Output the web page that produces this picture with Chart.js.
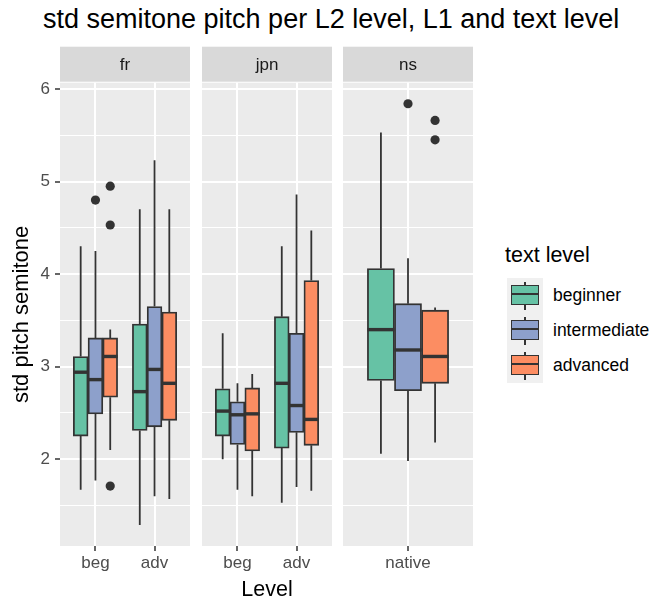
<!DOCTYPE html>
<html>
<head>
<meta charset="utf-8">
<script src="https://cdn.jsdelivr.net/npm/chart.js@4/dist/chart.umd.min.js"></script>
<style>
  body { margin: 0; background: #fff; font-family: "Liberation Sans", Arial, sans-serif; }
  #wrap { position: relative; width: 654px; height: 601px; overflow: hidden; background: #fff; }
  canvas { position: absolute; top: 40px; }
  #title { position: absolute; left: 43px; top: 6px; font-size: 27px; line-height: 26px; color: #000; white-space: nowrap; }
  #lgTitle { position: absolute; left: 505px; top: 245px; font-size: 21.5px; line-height: 21.5px; color: #000; white-space: nowrap; }
  #keys { position: absolute; left: 505px; top: 277.5px; }
  .row { position: relative; height: 35px; width: 150px; }
  .key { position: absolute; left: 2px; top: 0; width: 35.5px; height: 35px; background: #F0F0F0; }
  .wh { position: absolute; left: 17px; width: 1.6px; top: 4px; bottom: 3px; background: #333; }
  .bx { position: absolute; left: 3.75px; top: 7.5px; width: 28px; height: 20px; box-sizing: border-box; border: 1.6px solid #333; }
  .md { position: absolute; left: 0; right: 0; top: 7.2px; height: 2.2px; background: #333; }
  .lab { position: absolute; left: 48px; top: 0; line-height: 35px; font-size: 17.5px; color: #000; white-space: nowrap; }
</style>
</head>
<body>
<div id="wrap">
  <div id="title">std semitone pitch per L2 level, L1 and text level</div>
  <canvas id="cFr" width="190" height="561" style="left:0px"></canvas>
  <canvas id="cJpn" width="130" height="561" style="left:202px"></canvas>
  <canvas id="cNs" width="130" height="561" style="left:343px"></canvas>
  <div id="lgTitle">text level</div>
  <div id="keys"></div>
</div>
<script>
// facets and x levels
const facets = ['fr', 'jpn', 'ns'];
const frLevels = ['beg', 'adv'];
const jpnLevels = ['beg', 'adv'];
const nsLevels = ['native'];
const textLevels = ['beginner', 'intermediate', 'advanced'];
const fills = ['#66C2A5', '#8DA0CB', '#FC8D62'];

// [lower whisker, q1, median, q3, upper whisker] for each x level
const frBeginner     = [[1.67, 2.25, 2.94, 3.11, 4.30], [1.29, 2.31, 2.73, 3.46, 4.70]];
const frIntermediate = [[1.77, 2.49, 2.86, 3.31, 4.25], [1.60, 2.35, 2.97, 3.65, 5.23]];
const frAdvanced     = [[2.10, 2.67, 3.11, 3.31, 3.40], [1.57, 2.42, 2.82, 3.59, 4.70]];
const jpnBeginner     = [[2.00, 2.25, 2.52, 2.76, 3.36], [1.53, 2.12, 2.82, 3.54, 4.30]];
const jpnIntermediate = [[1.67, 2.16, 2.48, 2.62, 2.82], [1.70, 2.29, 2.58, 3.36, 4.86]];
const jpnAdvanced     = [[1.60, 2.09, 2.49, 2.77, 2.92], [1.66, 2.15, 2.43, 3.93, 4.47]];
const nsBeginner     = [[2.06, 2.85, 3.40, 4.06, 5.53]];
const nsIntermediate = [[1.98, 2.74, 3.18, 3.68, 4.17]];
const nsAdvanced     = [[2.18, 2.82, 3.11, 3.61, 3.64]];

// outliers for each x level
const frBeginnerOut = [[], []];
const frIntermediateOut = [[4.80], []];
const frAdvancedOut = [[4.95, 4.53, 1.71], []];
const jpnBeginnerOut = [[], []];
const jpnIntermediateOut = [[], []];
const jpnAdvancedOut = [[], []];
const nsBeginnerOut = [[]];
const nsIntermediateOut = [[5.84]];
const nsAdvancedOut = [[5.66, 5.45]];

const yMajor = [2, 3, 4, 5, 6];
const yMinor = [1.5, 2.5, 3.5, 4.5, 5.5];

Chart.defaults.font.family = '"Liberation Sans", Arial, sans-serif';
Chart.defaults.animation = false;

// ggplot-like y range: data range expanded by 5%
const allVals = [frBeginner, frIntermediate, frAdvanced, jpnBeginner, jpnIntermediate, jpnAdvanced, nsBeginner, nsIntermediate, nsAdvanced]
  .flat(2).concat([frIntermediateOut, frAdvancedOut, nsIntermediateOut, nsAdvancedOut].flat(2));
const yLo = Math.min(...allVals), yHi = Math.max(...allVals);
const yMin = yLo - (yHi - yLo) * 0.05, yMax = yHi + (yHi - yLo) * 0.05;

const panelW = 130;

const boxPlugin = {
  id: 'boxplot',
  beforeDraw(chart) {
    const { ctx, chartArea: a } = chart;
    ctx.save();
    ctx.fillStyle = '#EBEBEB';
    ctx.fillRect(a.left, a.top, a.right - a.left, a.bottom - a.top);
    ctx.fillStyle = '#D9D9D9';
    ctx.fillRect(a.left, a.top - 36, a.right - a.left, 35);
    ctx.restore();
  },
  beforeDatasetsDraw(chart) {
    const { ctx } = chart, y = chart.scales.y;
    ctx.save();
    ctx.strokeStyle = '#333333';
    ctx.lineWidth = 1.8;
    chart.data.datasets.forEach((ds, i) => {
      chart.getDatasetMeta(i).data.forEach((bar, j) => {
        const s = ds.stats[j];
        ctx.beginPath();
        ctx.moveTo(bar.x, y.getPixelForValue(s[3]));
        ctx.lineTo(bar.x, y.getPixelForValue(s[4]));
        ctx.moveTo(bar.x, y.getPixelForValue(s[1]));
        ctx.lineTo(bar.x, y.getPixelForValue(s[0]));
        ctx.stroke();
      });
    });
    ctx.restore();
  },
  afterDatasetsDraw(chart) {
    const { ctx } = chart, y = chart.scales.y;
    ctx.save();
    chart.data.datasets.forEach((ds, i) => {
      chart.getDatasetMeta(i).data.forEach((bar, j) => {
        const s = ds.stats[j];
        const my = y.getPixelForValue(s[2]);
        ctx.fillStyle = '#333333';
        ctx.fillRect(bar.x - bar.width / 2, my - 1.7, bar.width, 3.4);
        ds.outliers[j].forEach(v => {
          ctx.beginPath();
          ctx.arc(bar.x, y.getPixelForValue(v), 4.6, 0, Math.PI * 2);
          ctx.fill();
        });
      });
    });
    ctx.restore();
  }
};

function makePanel(id, facet, cats, stats, outs, showY, xTitle) {
  const barPx = 0.25 * panelW / (cats.length + 0.2);
  return new Chart(document.getElementById(id), {
    type: 'bar',
    data: {
      datasets: stats.map((s, i) => ({
        label: textLevels[i],
        data: s.map((st, j) => ({ x: j + 1, y: [st[1], st[3]] })),
        stats: s,
        outliers: outs[i],
        backgroundColor: fills[i],
        borderColor: '#333333',
        borderWidth: 1.8,
        borderSkipped: false,
        barThickness: barPx
      }))
    },
    options: {
      responsive: false,
      layout: { padding: 0 },
      plugins: {
        legend: { display: false },
        tooltip: { enabled: false },
        title: {
          display: true, text: facet, fullSize: false, color: '#1A1A1A',
          font: { size: 17, weight: 'normal', lineHeight: 1 },
          padding: { top: 16.5, bottom: 9.2 }
        }
      },
      scales: {
        x: {
          type: 'linear', min: 0.4, max: cats.length + 0.6, offset: false,
          afterBuildTicks: s => { s.ticks = cats.map((c, i) => ({ value: i + 1 })); },
          afterFit: s => { s.height = 55; },
          border: { display: false },
          grid: { offset: false, color: '#FFFFFF', lineWidth: 2, tickColor: '#333333', tickWidth: 1.5, tickLength: 5 },
          ticks: { autoSkip: false, maxRotation: 0, color: '#4D4D4D', font: { size: 17 }, padding: 2.5,
                   callback: (v, i) => cats[i] },
          title: { display: !!xTitle, text: xTitle || '', color: '#000', font: { size: 21.5, lineHeight: 1 },
                   padding: { top: 0, bottom: 0.5 } }
        },
        y: {
          min: yMin, max: yMax,
          afterBuildTicks: s => { s.ticks = yMinor.concat(yMajor).sort((a, b) => a - b).map(v => ({ value: v })); },
          afterFit: s => { s.width = showY ? 60 : 0; },
          border: { display: false },
          grid: {
            color: '#FFFFFF',
            lineWidth: c => yMajor.includes(c.tick.value) ? 2 : 1.1,
            drawTicks: showY,
            tickLength: 5, tickWidth: 1.5,
            tickColor: c => yMajor.includes(c.tick.value) ? '#333333' : 'rgba(0,0,0,0)'
          },
          ticks: { display: showY, color: '#4D4D4D', font: { size: 17 }, padding: 5,
                   callback: v => yMajor.includes(v) ? String(v) : '' },
          title: { display: showY, text: 'std pitch semitone', color: '#000', font: { size: 22, lineHeight: 1 },
                   padding: { top: 11, bottom: 0 } }
        }
      }
    },
    plugins: [boxPlugin]
  });
}

makePanel('cFr', facets[0], frLevels, [frBeginner, frIntermediate, frAdvanced],
  [frBeginnerOut, frIntermediateOut, frAdvancedOut], true, null);
makePanel('cJpn', facets[1], jpnLevels, [jpnBeginner, jpnIntermediate, jpnAdvanced],
  [jpnBeginnerOut, jpnIntermediateOut, jpnAdvancedOut], false, 'Level');
makePanel('cNs', facets[2], nsLevels, [nsBeginner, nsIntermediate, nsAdvanced],
  [nsBeginnerOut, nsIntermediateOut, nsAdvancedOut], false, null);

// legend
document.getElementById('keys').innerHTML = textLevels.map((t, i) =>
  `<div class="row"><div class="key"><div class="wh"></div><div class="bx" style="background:${fills[i]}"><div class="md"></div></div></div><div class="lab">${t}</div></div>`
).join('');
</script>
</body>
</html>
